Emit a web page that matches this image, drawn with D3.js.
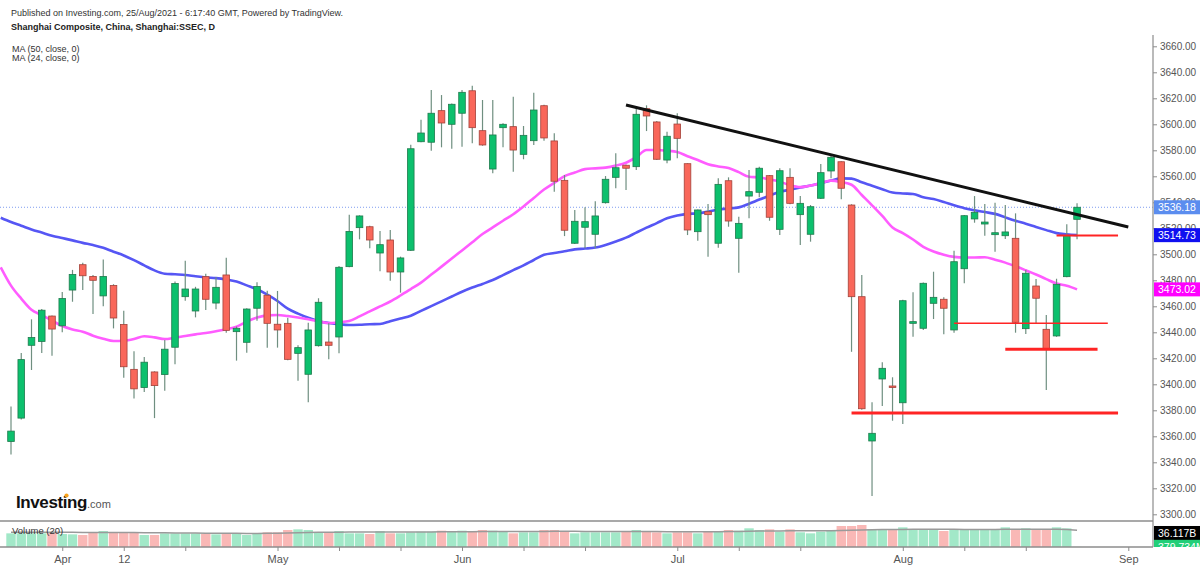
<!DOCTYPE html>
<html>
<head>
<meta charset="utf-8">
<script src="https://cdn.jsdelivr.net/npm/d3@7"></script>
<style>
  body { margin: 0; background: #fff; }
  text { font-family: Arial, "Liberation Sans", sans-serif; }
</style>
</head>
<body>
<div id="vis-container"></div>
<script>
// trading days shown (Mar 25 .. Aug 25, 2021)
const dates = [
  "2021-03-25", "2021-03-26", "2021-03-29", "2021-03-30", "2021-03-31",
  "2021-04-01", "2021-04-02", "2021-04-06", "2021-04-07", "2021-04-08", "2021-04-09", "2021-04-12", "2021-04-13",
  "2021-04-14", "2021-04-15", "2021-04-16", "2021-04-19", "2021-04-20", "2021-04-21", "2021-04-22", "2021-04-23",
  "2021-04-26", "2021-04-27", "2021-04-28", "2021-04-29", "2021-04-30",
  "2021-05-06", "2021-05-07", "2021-05-10", "2021-05-11", "2021-05-12", "2021-05-13", "2021-05-14", "2021-05-17",
  "2021-05-18", "2021-05-19", "2021-05-20", "2021-05-21", "2021-05-24", "2021-05-25", "2021-05-26", "2021-05-27",
  "2021-05-28", "2021-05-31",
  "2021-06-01", "2021-06-02", "2021-06-03", "2021-06-04", "2021-06-07", "2021-06-08", "2021-06-09", "2021-06-10",
  "2021-06-11", "2021-06-15", "2021-06-16", "2021-06-17", "2021-06-18", "2021-06-21", "2021-06-22", "2021-06-23",
  "2021-06-24", "2021-06-25", "2021-06-28", "2021-06-29", "2021-06-30",
  "2021-07-01", "2021-07-02", "2021-07-05", "2021-07-06", "2021-07-07", "2021-07-08", "2021-07-09", "2021-07-12",
  "2021-07-13", "2021-07-14", "2021-07-15", "2021-07-16", "2021-07-19", "2021-07-20", "2021-07-21", "2021-07-22",
  "2021-07-23", "2021-07-26", "2021-07-27", "2021-07-28", "2021-07-29", "2021-07-30",
  "2021-08-02", "2021-08-03", "2021-08-04", "2021-08-05", "2021-08-06", "2021-08-09", "2021-08-10", "2021-08-11",
  "2021-08-12", "2021-08-13", "2021-08-16", "2021-08-17", "2021-08-18", "2021-08-19", "2021-08-20", "2021-08-23",
  "2021-08-24", "2021-08-25"
];
// empty bars to the right of the last candle
const futureDates = ["2021-08-26", "2021-08-27", "2021-08-30", "2021-08-31", "2021-09-01"];

const opens = [
  3356, 3374, 3430, 3433, 3452.5, 3445, 3472.5, 3492, 3483, 3468,
  3476, 3446, 3411.5, 3397.5, 3409.5, 3407.5, 3428.5, 3467.4, 3456.4, 3482.8,
  3462.5, 3484.1, 3440.5, 3432.3, 3458.5, 3468.5, 3446.2, 3446.9, 3423.8, 3407.7,
  3429.7, 3432.5, 3436.4, 3490.5, 3520.5, 3521.2, 3501, 3511, 3486.4, 3503.1,
  3586.6, 3586.2, 3610.5, 3600, 3608.5, 3625.8, 3595.1, 3565.6, 3597.4, 3598.2,
  3576.9, 3587.4, 3614.3, 3587.2, 3556.9, 3508.5, 3520.8, 3515.4, 3539.7, 3559.2,
  3568.5, 3567.4, 3612, 3601.8, 3572.5, 3600.2, 3569.7, 3517.4, 3532.8, 3508.5,
  3556.6, 3512.3, 3544.8, 3547.7, 3560.5, 3519.2, 3559.2, 3530.5, 3515.4, 3543.1,
  3564.1, 3571.2, 3537.9, 3467.4, 3356.4, 3404.1, 3398.7, 3385.8, 3446.9, 3443.1,
  3462.3, 3465.4, 3441.8, 3488.9, 3527.2, 3523.3, 3515.1, 3514.3, 3512.3, 3442.8,
  3475.6, 3442.3, 3437.2, 3482.8, 3526.9
];
const highs = [
  3383, 3424, 3450, 3458, 3453, 3471, 3488, 3493.5, 3484, 3496,
  3477, 3456.5, 3425.5, 3421, 3410, 3434, 3479, 3495, 3475, 3485,
  3482.3, 3497.4, 3444.5, 3458.5, 3478.5, 3472, 3471.8, 3451.2, 3430, 3447.4,
  3466.2, 3446.9, 3491, 3530.5, 3530, 3522, 3517.9, 3518.7, 3498.2, 3584.3,
  3603.5, 3626.4, 3622.5, 3616, 3626.4, 3629.7, 3618.7, 3618.7, 3600.8, 3621.2,
  3598.7, 3624.3, 3615, 3593.1, 3561, 3534.1, 3536.2, 3540.8, 3560.2, 3577.7,
  3569, 3614.1, 3614.6, 3602.5, 3594.3, 3608.5, 3570, 3534.5, 3538.7, 3558.5,
  3559.2, 3528.9, 3564.8, 3567.4, 3561, 3566.2, 3566.2, 3544.8, 3537.9, 3569.5,
  3576.4, 3571.5, 3538.5, 3484.1, 3386.2, 3416.9, 3405.4, 3465, 3470.8, 3478.3,
  3486.6, 3466.9, 3502.8, 3530.3, 3544.8, 3538.7, 3539.7, 3537.9, 3531.5, 3487.9,
  3481, 3453.3, 3481.2, 3523.1, 3539.2
];
const lows = [
  3346, 3373, 3411, 3424, 3422, 3440, 3463.5, 3472.5, 3454, 3460,
  3443, 3405, 3389, 3394, 3374, 3395, 3415.5, 3464.3, 3451.5, 3457.2,
  3457.7, 3439.7, 3418.2, 3424.3, 3448.9, 3428.2, 3428.2, 3418.5, 3402.8, 3386.2,
  3429, 3419.2, 3423.8, 3490, 3511.5, 3504.6, 3486.9, 3479.7, 3470.5, 3502.5,
  3586.2, 3579.7, 3582.3, 3581.2, 3582.8, 3585.4, 3583.5, 3562.3, 3582.3, 3563.5,
  3573.1, 3584.1, 3587.4, 3548.2, 3514, 3508, 3504.6, 3504.6, 3539, 3550.8,
  3549.5, 3564.8, 3594.8, 3572.5, 3570, 3573.8, 3514.8, 3510.5, 3498.2, 3505,
  3521.2, 3485.8, 3527.7, 3543.8, 3525.8, 3514.8, 3538.5, 3507.2, 3509.7, 3542.5,
  3558.5, 3542.3, 3425, 3380.5, 3314.1, 3383.3, 3372, 3369.5, 3436.6, 3441.8,
  3450.2, 3438.5, 3439.7, 3477.7, 3524.3, 3514.3, 3502, 3511.8, 3439.7, 3438.7,
  3446.9, 3395.6, 3436.5, 3482.3, 3511.5
];
const closes = [
  3364, 3419, 3436, 3457, 3442.5, 3466, 3484.5, 3483.5, 3480, 3483,
  3451, 3413.5, 3396.5, 3417, 3399, 3427, 3477.5, 3473.3, 3473.3, 3465.4,
  3474.6, 3441.5, 3443.1, 3457.9, 3475.2, 3446.9, 3441.8, 3419.2, 3428.2, 3441.8,
  3463.1, 3430, 3490, 3517.6, 3529.5, 3511, 3507.4, 3486.4, 3497.2, 3581.2,
  3593.3, 3608.5, 3601, 3615.4, 3624.6, 3597.4, 3584.1, 3591.8, 3600, 3580.2,
  3591.5, 3611, 3589.5, 3556.2, 3518.5, 3525.4, 3525.1, 3529.5, 3557.7, 3566.6,
  3566.2, 3607.7, 3606.4, 3573.1, 3590.8, 3589.2, 3518.7, 3534.1, 3530.5, 3553.8,
  3525.6, 3523.8, 3548.2, 3566.2, 3528.5, 3564.3, 3539.2, 3539.2, 3536.6, 3562.8,
  3574.6, 3550.8, 3467.4, 3381.2, 3362.3, 3412.3, 3397.7, 3464.3, 3448.2, 3477.7,
  3466.9, 3458.5, 3494.3, 3529.7, 3532.3, 3524.8, 3516.6, 3517.2, 3447.7, 3485.4,
  3466.2, 3427.4, 3476.9, 3514.3, 3536.18
];
// volume, billions of shares
const volumes = [
  35.2, 35.2, 35.2, 35.2, 37, 33.5, 32.6, 31, 37, 41.2,
  37.8, 37.8, 37, 31, 31, 35.2, 35.2, 35.2, 35.2, 33.5,
  32.6, 35.2, 33.5, 31, 35.2, 37.8, 37.8, 43.8, 45.5, 43.8,
  37.8, 37.8, 41.2, 35.2, 35.2, 33.5, 41.2, 35.2, 35.2, 37.8,
  39.5, 39.5, 42.1, 39.5, 42.1, 39.5, 43.8, 42.1, 39.5, 35.2,
  37.8, 37.8, 43.8, 43.8, 39.5, 35.2, 37.8, 37.8, 37.8, 37.8,
  41.2, 43.8, 39.5, 37.8, 35.2, 37.8, 37.8, 35.2, 39.5, 39.5,
  43.8, 42.1, 48.2, 43.8, 45.5, 39.5, 45.5, 37.8, 35.2, 39.5,
  43.8, 54.1, 54.1, 56.7, 45.5, 43.8, 45.5, 50.7, 45.5, 43.8,
  43.8, 41.2, 43.8, 43.8, 45.5, 45.5, 46.4, 50.7, 46.4, 48.2,
  46.4, 45.5, 50.7, 48, 0.38
];
const volMa = [
  38, 38, 38, 38, 38, 38, 37.8, 37.5, 37.5, 37.5,
  37.5, 37.5, 37.3, 37, 36.8, 36.5, 36.2, 36, 35.8, 35.5,
  35.5, 35.3, 35.2, 35, 35, 35.2, 35.5, 36, 36.8, 37.5,
  37.8, 38, 38.3, 38.5, 38.5, 38.5, 38.8, 38.8, 38.8, 38.8,
  38.8, 38.8, 39, 39.2, 39.5, 39.5, 39.8, 40, 40, 40,
  40, 40, 40.2, 40.5, 40.5, 40.5, 40.2, 40, 40, 39.8,
  39.8, 39.8, 39.8, 39.8, 39.5, 39.5, 39.5, 39.3, 39.3, 39.5,
  39.8, 40, 40.5, 41, 41.2, 41.5, 41.8, 41.8, 41.8, 41.8,
  42, 42.5, 43.2, 44, 44.5, 44.8, 45, 45.3, 45.5, 45.5,
  45.5, 45.5, 45.5, 45.3, 45.3, 45.3, 45.3, 45.5, 45.5, 45.5,
  45.5, 45.5, 45.5, 45.3, 43.2
];
// moving averages; first value belongs to Mar 24, one bar before the first candle
const ma50 = [
  3528.1,
  3524.8, 3522, 3519.1, 3516.7, 3514.3, 3512.5, 3510.7, 3508.8, 3507.1, 3505,
  3502, 3499.1, 3495.5, 3491.5, 3487.6, 3485.1, 3484.6, 3484.1, 3483.1, 3482.2,
  3481.7, 3480.6, 3479, 3476.1, 3473.1, 3469, 3464.1, 3458.2, 3454.4, 3451.2,
  3448.5, 3447.2, 3446.2, 3445.6, 3445.8, 3446.2, 3446.4, 3448.5, 3450.6, 3452.8,
  3456.5, 3460.1, 3463.8, 3467.5, 3471.2, 3474.4, 3477.2, 3480.2, 3484, 3487.8,
  3491.5, 3495.6, 3499.6, 3501, 3502.3, 3503.8, 3504.4, 3505.2, 3507.2, 3509.8,
  3512.8, 3516.7, 3520.5, 3524, 3527.7, 3529.8, 3531.1, 3531.5, 3532.8, 3534.5,
  3535.2, 3536.1, 3538.9, 3542.1, 3545.1, 3548.1, 3549.7, 3551.4, 3552.9, 3554.8,
  3556.7, 3558.4, 3558.2, 3555.4, 3552.8, 3550.1, 3547.5, 3546.8, 3546.4, 3543.9,
  3542.5, 3540.2, 3537.7, 3535.5, 3533.9, 3532.5, 3531.1, 3528.4, 3525.8, 3523.5,
  3521, 3518.6, 3516.3, 3515.4, 3514.73
];
const ma24 = [
  3490,
  3475.9, 3465.9, 3457.3, 3453.2, 3449, 3444.8, 3442.2, 3440.5, 3437.4, 3435.1,
  3433.3, 3433.5, 3434.8, 3437, 3436.1, 3434.8, 3435.9, 3437.2, 3438.4, 3439.5,
  3440.8, 3442.3, 3444.3, 3448.2, 3451.3, 3453, 3453.3, 3452.5, 3451.4, 3450,
  3448.6, 3447.1, 3447.7, 3448.7, 3452.2, 3456.1, 3459.9, 3463.7, 3468.3, 3473.2,
  3478.2, 3484.4, 3490.5, 3496.7, 3503, 3509.3, 3515.6, 3520.7, 3525.8, 3530.8,
  3536.8, 3543.3, 3549.8, 3555, 3560.1, 3562.9, 3565.5, 3566.1, 3566.7, 3568.2,
  3570.4, 3574.7, 3580.2, 3580.2, 3579.7, 3578.7, 3575.4, 3572.5, 3569.3, 3567.6,
  3566.3, 3563.2, 3559.6, 3559.2, 3557.6, 3555.9, 3553.1, 3551.7, 3552.9, 3554.8,
  3556.7, 3555.6, 3553.5, 3545.6, 3537.7, 3529.5, 3520.6, 3516.3, 3511.4, 3505.8,
  3502.2, 3499.7, 3498, 3497.5, 3497.5, 3497.7, 3495.8, 3493.6, 3490.8, 3487.7,
  3484.5, 3480.9, 3477.5, 3475.8, 3473.02
];

// x axis ticks (blank label = tick mark only)
const tickDates = ["2021-04-01", "2021-04-12", "2021-04-20", "2021-05-06", "2021-05-14", "2021-05-24",
  "2021-06-01", "2021-06-09", "2021-06-18", "2021-07-01", "2021-07-09", "2021-07-19",
  "2021-08-02", "2021-08-10", "2021-08-18", "2021-09-01"];
const tickLabels = ["Apr", "12", "", "May", "", "", "Jun", "", "", "Jul", "", "",
  "Aug", "", "", "Sep"];
const priceTicks = d3.range(3300, 3661, 20);

// drawn annotations: horizontal levels and the falling trend line
const levelFrom = ["2021-08-09", "2021-07-26", "2021-08-16", "2021-08-23"];
const levelTo = ["2021-08-30", "2021-08-31", "2021-08-27", "2021-08-31"];
const levelPrice = [3447, 3378, 3427, 3514.5];
const levelWidth = [1.5, 3, 3, 2];
const trendDates = ["2021-06-24", "2021-09-01"];
const trendPrices = [3614.8, 3521];

const width = 1200;
const height = 566;
const axisX = 1153;
const pane = { top: 35, bottom: 521 };
const volPane = { top: 521, bottom: 547 };

const allDates = dates.concat(futureDates);
const idx = (d) => allDates.indexOf(d);

const green = "#0cc06d", greenEdge = "#1f7a4d";
const red = "#f9675a", redEdge = "#a3423a";
const wick = "#6f8f80";

const svg = d3.select("#vis-container")
  .append("svg")
  .attr("width", width)
  .attr("height", height)
  .attr("viewBox", [0, 0, width, height]);

// scales
const x = d3.scaleLinear().domain([-1.073, 111.41]).range([0, axisX]);
const y = d3.scaleLinear().domain([3300, 3660]).range([514.3, 46.3]);
const yVol = d3.scaleLinear().domain([0, 60]).range([volPane.bottom, volPane.bottom - 0.388 * 60]);

svg.append("clipPath").attr("id", "clipMain")
  .append("rect").attr("x", 0).attr("y", pane.top).attr("width", axisX).attr("height", pane.bottom - pane.top);
svg.append("clipPath").attr("id", "clipVol")
  .append("rect").attr("x", 0).attr("y", volPane.top).attr("width", axisX).attr("height", volPane.bottom - volPane.top);

const main = svg.append("g").attr("clip-path", "url(#clipMain)");
const vol = svg.append("g").attr("clip-path", "url(#clipVol)");

const candles = dates.map((d, i) => ({
  i: i, o: opens[i], h: highs[i], l: lows[i], c: closes[i], v: volumes[i], up: closes[i] >= opens[i]
}));

// last price dotted line
main.append("line")
  .attr("x1", 0).attr("x2", axisX)
  .attr("y1", y(closes[closes.length - 1])).attr("y2", y(closes[closes.length - 1]))
  .attr("stroke", "#7f9cf0").attr("stroke-width", 1).attr("stroke-dasharray", "1,2");

// moving averages
const maLine = d3.line()
  .x((d, i) => x(i - 1))
  .y((d) => y(d))
  .curve(d3.curveMonotoneX);

main.append("path").datum(ma50)
  .attr("d", maLine).attr("fill", "none")
  .attr("stroke", "#5656f4").attr("stroke-width", 2.6);
main.append("path").datum(ma24)
  .attr("d", maLine).attr("fill", "none")
  .attr("stroke", "#ff5cff").attr("stroke-width", 2.6);

// candles
const cg = main.selectAll(".candle")
  .data(candles)
  .enter()
  .append("g")
  .attr("class", "candle");

cg.append("line")
  .attr("x1", (d) => x(d.i)).attr("x2", (d) => x(d.i))
  .attr("y1", (d) => y(d.h)).attr("y2", (d) => y(d.l))
  .attr("stroke", wick).attr("stroke-width", 1.2);

cg.append("rect")
  .attr("x", (d) => x(d.i) - 3.3)
  .attr("width", 6.6)
  .attr("y", (d) => y(Math.max(d.o, d.c)))
  .attr("height", (d) => Math.max(1.5, Math.abs(y(d.o) - y(d.c))))
  .attr("fill", (d) => d.up ? green : red)
  .attr("stroke", (d) => d.up ? greenEdge : redEdge)
  .attr("stroke-width", 0.8);

// horizontal levels
main.selectAll(".level")
  .data(levelPrice)
  .enter()
  .append("line")
  .attr("class", "level")
  .attr("x1", (d, k) => x(idx(levelFrom[k])))
  .attr("x2", (d, k) => x(idx(levelTo[k])))
  .attr("y1", (d) => y(d)).attr("y2", (d) => y(d))
  .attr("stroke", "#ff2424")
  .attr("stroke-width", (d, k) => levelWidth[k]);

// trend line
main.append("line")
  .attr("x1", x(idx(trendDates[0]))).attr("y1", y(trendPrices[0]))
  .attr("x2", x(idx(trendDates[1]))).attr("y2", y(trendPrices[1]))
  .attr("stroke", "#111").attr("stroke-width", 3);

// volume bars
vol.selectAll("rect")
  .data(candles)
  .enter()
  .append("rect")
  .attr("x", (d) => x(d.i) - 4.7)
  .attr("width", 9.4)
  .attr("y", (d) => yVol(d.v))
  .attr("height", (d) => volPane.bottom - yVol(d.v))
  .attr("fill", (d) => d.up ? "#a2e8c8" : "#f9b8b6");

vol.append("path").datum(volMa)
  .attr("d", d3.line().x((d, i) => x(i)).y((d) => yVol(d)))
  .attr("fill", "none").attr("stroke", "#9a9a9a").attr("stroke-width", 1.5);

vol.append("text")
  .attr("x", 12).attr("y", 534)
  .attr("font-size", "9.5px").attr("fill", "#333")
  .text("Volume (20)");

// frame lines
svg.append("line").attr("x1", 0).attr("x2", axisX).attr("y1", volPane.top).attr("y2", volPane.top)
  .attr("stroke", "#8c8c8c").attr("stroke-width", 1.5);
svg.append("line").attr("x1", 0).attr("x2", axisX).attr("y1", volPane.bottom).attr("y2", volPane.bottom)
  .attr("stroke", "#8c8c8c").attr("stroke-width", 1.5);
svg.append("line").attr("x1", axisX).attr("x2", axisX).attr("y1", pane.top).attr("y2", volPane.bottom)
  .attr("stroke", "#8c8c8c").attr("stroke-width", 1.2);

// price axis
svg.append("g")
  .attr("transform", `translate(${axisX},0)`)
  .call(d3.axisRight(y).tickValues(priceTicks).tickFormat(d3.format(".2f")).tickSize(4).tickPadding(3))
  .call((g) => g.select(".domain").remove())
  .call((g) => g.selectAll("line").attr("stroke", "#8c8c8c"))
  .call((g) => g.selectAll("text").attr("fill", "#555").attr("font-size", "10px")
    .attr("font-family", "Arial, 'Liberation Sans', sans-serif"));

// date axis
svg.append("g")
  .attr("transform", `translate(0,${volPane.bottom})`)
  .call(d3.axisBottom(x)
    .tickValues(tickDates.map(idx))
    .tickFormat((d, k) => tickLabels[k])
    .tickSize(4).tickPadding(4))
  .call((g) => g.select(".domain").remove())
  .call((g) => g.selectAll("line").attr("stroke", "#8c8c8c"))
  .call((g) => g.selectAll("text").attr("fill", "#555").attr("font-size", "11px")
    .attr("font-family", "Arial, 'Liberation Sans', sans-serif"));

// value labels on the right axis
const tags = [
  { v: closes[closes.length - 1], s: d3.format(".2f")(closes[closes.length - 1]), bg: "#5b8def", sc: y },
  { v: ma50[ma50.length - 1], s: d3.format(".2f")(ma50[ma50.length - 1]), bg: "#1010f0", sc: y },
  { v: ma24[ma24.length - 1], s: d3.format(".2f")(ma24[ma24.length - 1]), bg: "#ff00ff", sc: y },
  { v: 36.117, s: "36.117B", bg: "#000", sc: yVol },
  { v: volumes[volumes.length - 1], s: "379.734M", bg: "#22cf78", sc: yVol }
];
svg.append("clipPath").attr("id", "clipTags")
  .append("rect").attr("x", axisX).attr("y", 0).attr("width", 60).attr("height", volPane.bottom);
const tg = svg.append("g").attr("clip-path", "url(#clipTags)")
  .selectAll("g").data(tags).enter().append("g")
  .attr("transform", (d) => `translate(${axisX + 1},${d.sc(d.v)})`);
tg.append("rect").attr("x", 0).attr("y", -7).attr("width", 46).attr("height", 14).attr("fill", (d) => d.bg);
tg.append("text").attr("x", 4).attr("y", 4)
  .attr("font-size", "10.5px").attr("fill", "#fff")
  .text((d) => d.s);

// header texts
svg.append("text").attr("x", 11).attr("y", 15.5)
  .attr("font-size", "9px").attr("fill", "#333")
  .text("Published on Investing.com, 25/Aug/2021 - 6:17:40 GMT, Powered by TradingView.");
svg.append("text").attr("x", 11).attr("y", 30)
  .attr("font-size", "9px").attr("font-weight", "bold").attr("fill", "#222")
  .text("Shanghai Composite, China, Shanghai:SSEC, D");
svg.append("text").attr("x", 12).attr("y", 52)
  .attr("font-size", "9px").attr("fill", "#333")
  .text("MA (50, close, 0)");
svg.append("text").attr("x", 12).attr("y", 61)
  .attr("font-size", "9px").attr("fill", "#333")
  .text("MA (24, close, 0)");

// Investing.com logo
const logo = svg.append("text").attr("x", 16).attr("y", 508);
logo.append("tspan").attr("font-size", "17px").attr("font-weight", "bold").attr("fill", "#111")
  .attr("letter-spacing", "-0.4").text("Investing");
logo.append("tspan").attr("font-size", "11px").attr("fill", "#555").text(".com");
svg.append("circle").attr("cx", 66.5).attr("cy", 495.5).attr("r", 2.1).attr("fill", "#f7a21b");
</script>
</body>
</html>
